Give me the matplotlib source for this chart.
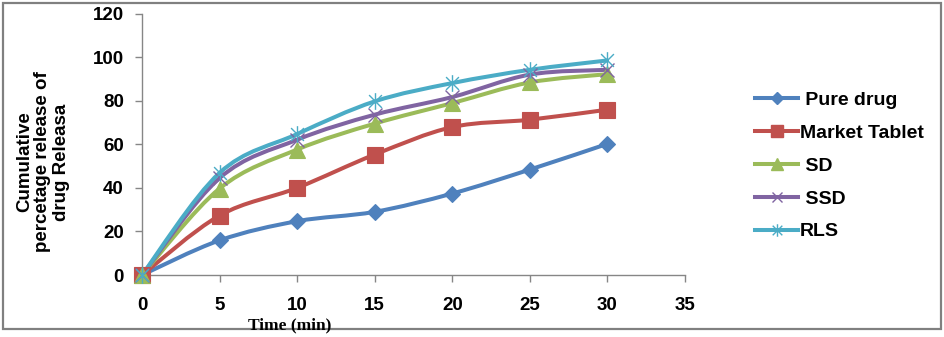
import numpy as np
import matplotlib
matplotlib.use('Agg')
import matplotlib.pyplot as plt
from matplotlib.path import Path
from matplotlib.patches import PathPatch, Rectangle

plt.rcParams['font.family'] = ['Liberation Sans', 'DejaVu Sans']

# ---------- dissolution data ----------
time_min = [0, 5, 10, 15, 20, 25, 30]
pure_drug = [0, 15.9, 24.7, 29.0, 37.4, 48.4, 60.2]
market_tablet = [0, 27.3, 40.0, 55.3, 67.9, 71.3, 75.9]
sd = [0, 39.7, 57.6, 69.5, 78.9, 88.4, 92.2]
ssd = [0, 44.5, 62.1, 73.6, 81.7, 92.0, 94.2]
rls = [0, 46.9, 64.7, 79.7, 88.1, 94.2, 98.5]

series_names = [' Pure drug', 'Market Tablet', ' SD', ' SSD', 'RLS']
series_values = [pure_drug, market_tablet, sd, ssd, rls]
colors = ['#4F81BD', '#C0504D', '#9BBB59', '#8064A2', '#4BACC6']

# asterisk marker (x plus vertical stroke)
star_path = Path([(-1, -1), (1, 1), (-1, 1), (1, -1), (0, -1.3), (0, 1.3)],
                 [Path.MOVETO, Path.LINETO, Path.MOVETO, Path.LINETO, Path.MOVETO, Path.LINETO])
markers = [('D', 8.5, True), ('s', 11, True), ('^', 12, True), ('x', 10, False), (star_path, 12, False)]


def smooth_path(xs, ys):
    # Catmull-Rom segments turned into cubic Bezier, like office "smoothed line"
    pts = np.column_stack([xs, ys]).astype(float)
    verts = [tuple(pts[0])]
    codes = [Path.MOVETO]
    n = len(pts)
    for i in range(n - 1):
        p0 = pts[i - 1] if i > 0 else pts[i]
        p1 = pts[i]
        p2 = pts[i + 1]
        p3 = pts[i + 2] if i + 2 < n else pts[i + 1]
        c1 = p1 + (p2 - p0) / 6.0
        c2 = p2 - (p3 - p1) / 6.0
        verts += [tuple(c1), tuple(c2), tuple(p2)]
        codes += [Path.CURVE4] * 3
    return Path(verts, codes)


W, H = 945, 337
fig = plt.figure(figsize=(W / 100, H / 100), dpi=100)

# outer chart frame
fig.patches.append(Rectangle((3 / W, 1 - 329 / H), 938 / W, 326 / H, transform=fig.transFigure,
                             fill=False, edgecolor='#808080', linewidth=1.6))

x0, x1, y_top, y_bot = 142, 685, 13.6, 275
ax = fig.add_axes([x0 / W, 1 - y_bot / H, (x1 - x0) / W, (y_bot - y_top) / H])

for name, vals, col, (mk, ms, filled) in zip(series_names, series_values, colors, markers):
    ax.add_patch(PathPatch(smooth_path(time_min, vals), facecolor='none', edgecolor=col,
                           linewidth=2.9, clip_on=False, zorder=2))
    ax.plot(time_min, vals, linestyle='none', marker=mk, markersize=ms,
            color=col, markerfacecolor=col if filled else 'none',
            markeredgewidth=0.8 if filled else 1.0, clip_on=False, zorder=3)
    # legend proxy
    ax.plot([], [], color=col, linewidth=2.9, marker=mk,
            markersize=ms * 0.75, markerfacecolor=col if filled else 'none', label=name)

ax.set_xlim(0, 35)
ax.set_ylim(0, 120)
ax.set_xticks(range(0, 36, 5))
ax.set_yticks(range(0, 121, 20))
for side in ['top', 'right']:
    ax.spines[side].set_visible(False)
for side in ['left', 'bottom']:
    ax.spines[side].set_color('#868686')
    ax.spines[side].set_linewidth(1.0)
ax.tick_params(direction='out', length=5, color='#868686', width=1.0,
               labelsize=13.5)
ax.tick_params(axis='x', pad=11)
ax.tick_params(axis='y', pad=8)
for lbl in ax.get_xticklabels() + ax.get_yticklabels():
    lbl.set_fontweight('bold')

fig.text(43 / W, 1 - 162 / H, 'Cumulative\npercetage release of\ndrug Releasa',
         rotation=90, ha='center', va='center', fontsize=13.5, fontweight='bold',
         linespacing=1.08)
fig.text(290 / W, 1 - 325 / H, 'Time (min)', ha='center', va='center',
         fontsize=12.5, fontweight='bold', family=['Liberation Serif', 'DejaVu Serif'])

leg = fig.legend(loc='center left', bbox_to_anchor=(738 / W, 1 - 166 / H), frameon=False,
                 prop={'weight': 'bold', 'size': 14}, handlelength=2.2,
                 handletextpad=0.1, labelspacing=0.78)

plt.savefig('out.png', dpi=100)
plt.close()
